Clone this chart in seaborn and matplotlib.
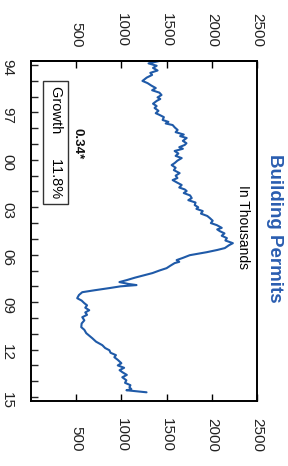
import matplotlib
matplotlib.use("Agg")
import matplotlib.pyplot as plt
import seaborn as sns
import pandas as pd
from matplotlib.ticker import FixedLocator

# ---- data ----
years = [1993.75, 1993.90, 1994.05, 1994.19, 1994.35, 1994.50, 1994.63, 1994.80,
         1995.01, 1995.15, 1995.30, 1995.46, 1995.60, 1995.75, 1995.90, 1996.05,
         1996.15, 1996.28, 1996.45, 1996.60, 1996.72, 1996.90, 1997.05, 1997.16,
         1997.30, 1997.48, 1997.60, 1997.70, 1997.80, 1997.95, 1998.11, 1998.25,
         1998.40, 1998.50, 1998.62, 1998.80, 1998.95, 1999.06, 1999.20, 1999.30,
         1999.44, 1999.60, 1999.75, 1999.89, 2000.05, 2000.20, 2000.33, 2000.50,
         2000.65, 2000.84, 2001.00, 2001.15, 2001.28, 2001.45, 2001.59, 2001.75,
         2001.87, 2001.97, 2002.10, 2002.25, 2002.42, 2002.55, 2002.70, 2002.86,
         2003.00, 2003.10, 2003.24, 2003.40, 2003.55, 2003.68, 2003.85, 2004.00,
         2004.13, 2004.30, 2004.40, 2004.51, 2004.65, 2004.80, 2004.95, 2005.10,
         2005.27, 2005.40, 2005.58, 2005.70, 2005.84, 2006.03, 2006.20, 2006.34,
         2006.45, 2006.53, 2006.70, 2006.85, 2007.00, 2007.16, 2007.30, 2007.45,
         2007.61, 2007.73, 2007.85, 2007.92, 2008.00, 2008.11, 2008.25, 2008.37,
         2008.55, 2008.75, 2008.90, 2009.06, 2009.20, 2009.35, 2009.51, 2009.65,
         2009.80, 2009.95, 2010.15, 2010.35, 2010.58, 2010.75, 2010.96, 2011.10,
         2011.28, 2011.50, 2011.72, 2011.90, 2012.04, 2012.20, 2012.35, 2012.48,
         2012.65, 2012.86, 2013.00, 2013.15, 2013.30, 2013.43, 2013.60, 2013.75,
         2013.94, 2014.10, 2014.25, 2014.38, 2014.50, 2014.57, 2014.70]
permits = [1420, 1300, 1390, 1350, 1400, 1320, 1340, 1280,
           1233, 1290, 1330, 1380, 1340, 1420, 1444, 1400,
           1430, 1389, 1350, 1390, 1367, 1410, 1380, 1422,
           1470, 1456, 1520, 1490, 1567, 1590, 1622, 1600,
           1690, 1650, 1722, 1680, 1720, 1700, 1640, 1680,
           1589, 1630, 1600, 1667, 1620, 1590, 1556, 1600,
           1580, 1644, 1600, 1620, 1567, 1620, 1667, 1640,
           1700, 1722, 1690, 1760, 1778, 1740, 1820, 1811,
           1850, 1830, 1900, 1880, 1950, 1978, 2010, 1990,
           2056, 2110, 2060, 2089, 2140, 2110, 2167, 2150,
           2233, 2190, 2144, 2060, 1944, 1756, 1680, 1611,
           1640, 1589, 1540, 1500, 1420, 1344, 1250, 1150,
           1056, 978, 1080, 1167, 990, 867, 700, 567,
           530, 511, 560, 589, 620, 600, 644, 600,
           620, 567, 590, 560, 556, 590, 611, 640,
           678, 720, 789, 820, 867, 880, 940, 922,
           960, 1000, 960, 1030, 980, 1011, 1060, 1010,
           1055, 1040, 1100, 1089, 1110, 1056, 1278]

value_ticks = [500, 1000, 1500, 2000, 2500]
value_labels = ["500", "1000", "1500", "2000", "2500"]
year_ticks = [1994, 1997, 2000, 2003, 2006, 2009, 2012, 2015]
year_labels = ["94", "97", "00", "03", "06", "09", "12", "15"]
minor_years = list(range(1994, 2016))

title = "Building Permits"
unit_note = "In Thousands"
growth_text = "Growth      11.8%"
corr_text = "0.34*"

df = pd.DataFrame({"year": years, "permits": permits})

sns.set_style("white")
plt.rcParams["font.family"] = ["Liberation Sans", "DejaVu Sans"]

W, H = 288, 466
fig = plt.figure(figsize=(W / 100, H / 100), dpi=100)
ax = fig.add_axes([31 / W, 1 - 401 / H, (257 - 31) / W, (401 - 61) / H])

line_color = "#1f5aa8"
sns.lineplot(data=df, x="permits", y="year", sort=False, estimator=None,
             color=line_color, linewidth=1.5, ax=ax)

ax.set_xlim(0, 2500)
ax.set_ylim(2015.25, 1993.75)
ax.set_xlabel("")
ax.set_ylabel("")

for s in ax.spines.values():
    s.set_visible(True)
    s.set_color("black")
    s.set_linewidth(1.4)

# bottom value axis (labels end far from the axis)
ax.xaxis.set_major_locator(FixedLocator(value_ticks))
ax.set_xticklabels(value_labels)
ax.tick_params(axis="x", which="major", direction="in", length=5, width=1,
               bottom=True, top=True, labelbottom=True, labeltop=False,
               pad=36.5, labelsize=11, colors="black")
plt.setp(ax.get_xticklabels(), rotation=-90, rotation_mode="anchor",
         ha="right", va="center", color="#222222")

# top value axis
sec = ax.secondary_xaxis("top")
sec.xaxis.set_major_locator(FixedLocator(value_ticks))
sec.set_xticklabels(value_labels)
sec.tick_params(axis="x", direction="in", length=0, pad=10, labelsize=11)
sec.spines["top"].set_linewidth(1.4)
plt.setp(sec.get_xticklabels(), rotation=-90, rotation_mode="anchor",
         ha="right", va="center", color="#222222")

# year axis on the left
ax.yaxis.set_major_locator(FixedLocator(year_ticks))
ax.set_yticklabels(year_labels)
ax.yaxis.set_minor_locator(FixedLocator(minor_years))
ax.tick_params(axis="y", which="both", direction="in", length=5, width=1,
               left=True, right=False, labelleft=True, labelright=False,
               pad=12, labelsize=11)
plt.setp(ax.get_yticklabels(), rotation=-90, color="#222222")

# annotations
ax.text(2344, 2004.25, unit_note, rotation=-90, ha="center", va="center",
        fontsize=10, color="black")
ax.text(272, 1998.9, growth_text, rotation=-90, ha="center", va="center",
        fontsize=10.5, color="black",
        bbox=dict(boxstyle="square,pad=0.4", fc="white", ec="#333333", lw=1))
ax.text(511, 1998.95, corr_text, rotation=-90, ha="center", va="center",
        fontsize=9.5, fontweight="bold", color="#111111")

fig.text(275 / W, 1 - 228 / H, title, rotation=-90, ha="center", va="center",
         fontsize=13.5, fontweight="bold", color="#2a5db0")

fig.savefig("out.png", dpi=100, facecolor="white")
